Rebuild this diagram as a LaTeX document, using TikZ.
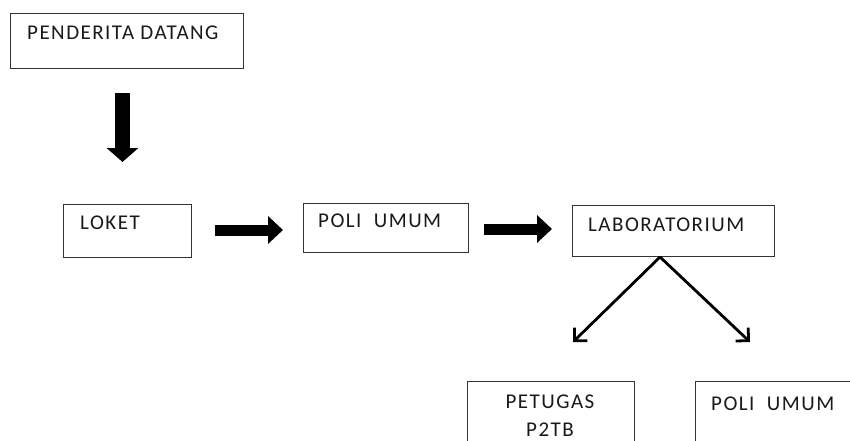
\documentclass[tikz,border=0pt]{standalone}
\usepackage{fontspec}
\setmainfont{Carlito}[LetterSpace=7]
\usetikzlibrary{arrows.meta,calc}
\begin{document}
\begin{tikzpicture}[x=1pt,y=-1pt,
  box/.style={draw=black!80,line width=1.4pt,inner sep=0pt,anchor=north west},
  lbl/.style={inner sep=0pt,anchor=base west,font=\fontsize{21}{28}\selectfont,text=black!90},
  blockarrow/.style={line width=11pt,-{Triangle[width=27pt,length=15pt]}},
  downarrow/.style={line width=15pt,-{Triangle[width=31pt,length=14pt]}},
  thinarrow/.style={line width=2.8pt,-{Straight Barb[angle=90:13pt]}}]
\useasboundingbox (0,0) rectangle (850,441);
\clip (0,0) rectangle (850,441);
% boxes
\node[box,minimum width=233pt,minimum height=55pt] (pend) at (10,13) {};
\node[lbl] (pendt) at (27,40) {PENDERITA DATANG};
\node[box,minimum width=128pt,minimum height=53pt] (loket) at (63,204) {};
\node[lbl] (lokett) at (80,229) {LOKET};
\node[box,minimum width=165pt,minimum height=49pt] (poli) at (303,203) {};
\node[lbl] (polit) at (318,227) {POLI\ \ UMUM};
\node[box,minimum width=202pt,minimum height=51pt] (lab) at (572,205) {};
\node[lbl] (labt) at (588,231) {LABORATORIUM};
\node[box,minimum width=167pt,minimum height=80pt] (pet) at (467,381) {};
\node[lbl,anchor=north,align=center] (pett) at (550,395) {PETUGAS\\P2TB};
\node[box,minimum width=170pt,minimum height=80pt] (poli2) at (695,381) {};
\node[lbl] (poli2t) at (711,410) {POLI\ \ UMUM};
% block arrows
\coordinate (d1) at (122.5,93);
\coordinate (d2) at (122.5,162);
\draw[downarrow] (d1) -- (d2);
\coordinate (h1) at (215,230);
\coordinate (h2) at (283,230);
\draw[blockarrow] (h1) -- (h2);
\coordinate (g1) at (484,229);
\coordinate (g2) at (552,229);
\draw[blockarrow] (g1) -- (g2);
% diagonal arrows
\coordinate (apex) at (660,257);
\coordinate (lt) at (573,342);
\coordinate (rt) at (750,342);
\draw[thinarrow] (apex) -- (lt);
\draw[thinarrow] (apex) -- (rt);
\end{tikzpicture}
\end{document}
